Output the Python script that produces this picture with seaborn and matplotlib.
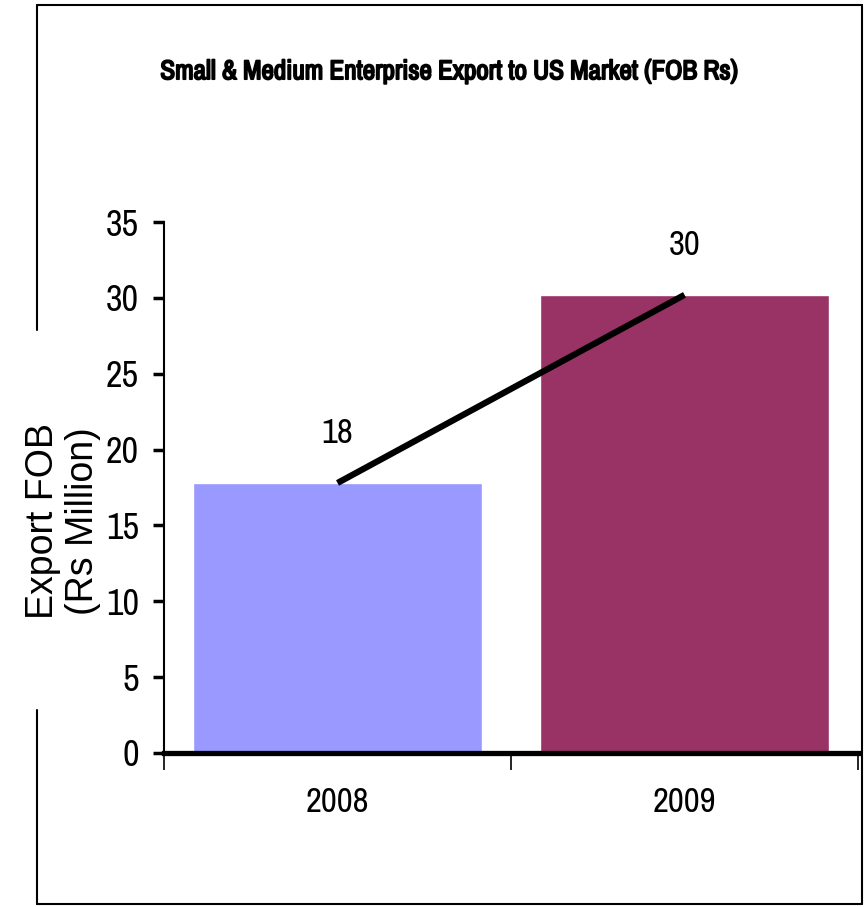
import matplotlib
matplotlib.use('Agg')
import matplotlib.pyplot as plt
from matplotlib import font_manager
import matplotlib.patheffects as pe
import seaborn as sns
import pandas as pd
from matplotlib.lines import Line2D

# data
years = ['2008', '2009']
export_fob = [17.8, 30.2]
value_labels = ['18', '30']
bar_colors = ['#9999FF', '#993366']
y_ticks = [0, 5, 10, 15, 20, 25, 30, 35]

df = pd.DataFrame({'year': years, 'export': export_fob})

# look for a condensed face, the original uses Arial Narrow
names = sorted({f.name for f in font_manager.fontManager.ttflist})
narrow_names = [n for n in names if 'Narrow' in n or 'Condensed' in n]
narrow = narrow_names[:1] + ['Liberation Sans', 'DejaVu Sans']

sns.set_style('white')
plt.rcParams['font.family'] = narrow
plt.rcParams['text.color'] = 'black'
plt.rcParams['xtick.color'] = 'black'
plt.rcParams['ytick.color'] = 'black'

fig = plt.figure(figsize=(8.68, 9.07), dpi=100)
ax = fig.add_axes([0.189, 0.1698, 0.7995, 0.5854])

sns.barplot(data=df, x='year', y='export', hue='year', palette=bar_colors,
            width=0.835, legend=False, ax=ax, saturation=1)

# trend line joining the bar tops
ax.plot([0, 1], export_fob, color='black', lw=4.5, solid_capstyle='butt', zorder=5)

for i, (v, lab) in enumerate(zip(export_fob, value_labels)):
    ax.text(i, v + 3.3, lab, ha='center', va='center', fontsize=25, color='black')

ax.set_xlim(-0.5, 1.5)
ax.set_ylim(0, 35)
ax.set_yticks(y_ticks)
ax.set_yticklabels([str(t) for t in y_ticks], fontsize=26)
ax.set_xticks([-0.5, 0.5, 1.5], minor=True)
ax.tick_params(axis='x', which='major', bottom=True, length=0, labelsize=25, pad=24)
ax.tick_params(axis='x', which='minor', bottom=True, length=12, width=1.2,
               direction='out', color='black')
ax.tick_params(axis='y', left=True, length=8, width=2.5, direction='out',
               color='black', pad=10)
ax.set_xlabel('')
ax.set_ylabel('')

for s in ['top', 'right']:
    ax.spines[s].set_visible(False)
ax.spines['left'].set_linewidth(1.5)
ax.spines['left'].set_color('black')
ax.spines['bottom'].set_linewidth(3.8)
ax.spines['bottom'].set_color('black')

fig.text(0.517, 0.921, 'Small & Medium Enterprise Export to US Market (FOB Rs)',
         ha='center', va='center', fontsize=19.5, fontweight='bold',
         path_effects=[pe.withStroke(linewidth=1.3, foreground='black')])

fig.text(0.073, 1 - 521 / 907, 'Export FOB\n(Rs Million)', rotation=90,
         ha='center', va='center', multialignment='center', fontsize=27,
         family=['Liberation Sans', 'DejaVu Sans'], linespacing=1.15)

# outer frame, left side broken by the axis title
frame = dict(color='black', lw=1.5, transform=fig.transFigure)
fig.add_artist(Line2D([0.0426, 0.993], [0.9945, 0.9945], **frame))
fig.add_artist(Line2D([0.993, 0.993], [0.9945, 0.003], **frame))
fig.add_artist(Line2D([0.0426, 0.993], [0.003, 0.003], **frame))
fig.add_artist(Line2D([0.0426, 0.0426], [0.9945, 0.636], **frame))
fig.add_artist(Line2D([0.0426, 0.0426], [0.217, 0.003], **frame))

fig.savefig('out.png', dpi=100)
